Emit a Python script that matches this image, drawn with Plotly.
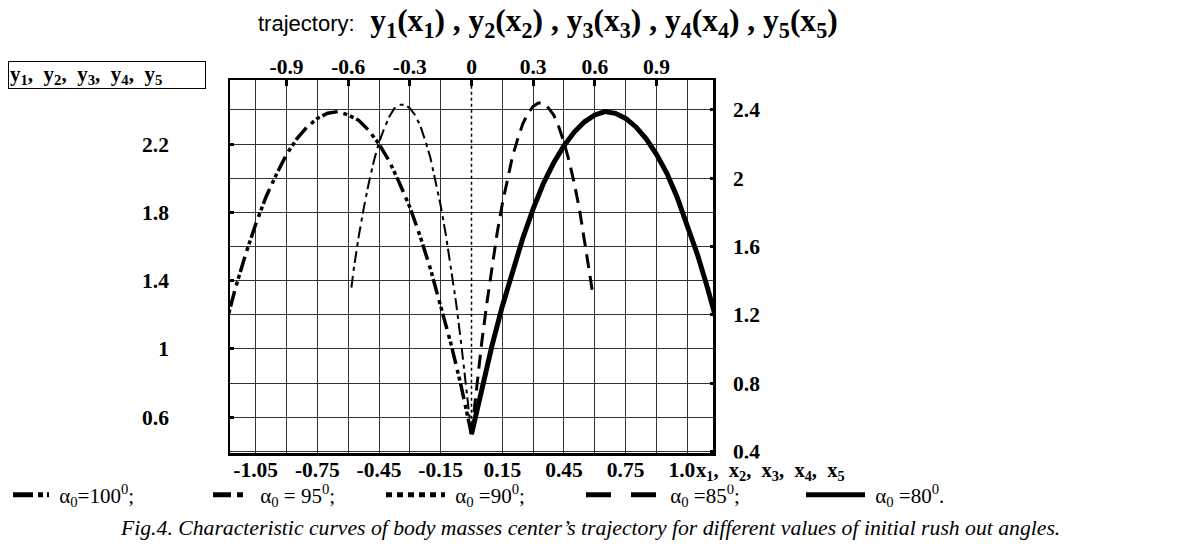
import plotly.graph_objects as go

SERIF = "Liberation Serif"
SANS = "Liberation Sans"

# alpha0 = 100 deg (left, long flight)
x_100 = [0.0, -0.05, -0.10, -0.15, -0.20, -0.25, -0.30, -0.35, -0.40, -0.45, -0.50, -0.55,
         -0.60, -0.65, -0.70, -0.75, -0.80, -0.85, -0.90, -0.95, -1.00, -1.05, -1.10, -1.15, -1.20]
y_100 = [0.50, 0.78, 1.03, 1.26, 1.47, 1.66, 1.83, 1.97, 2.10, 2.20, 2.28, 2.34,
         2.37, 2.39, 2.38, 2.35, 2.30, 2.23, 2.14, 2.02, 1.89, 1.73, 1.55, 1.35, 1.12]

# alpha0 = 95 deg (left, short flight)
x_95 = [0.0, -0.025, -0.05, -0.075, -0.10, -0.125, -0.15, -0.175, -0.20, -0.225, -0.25, -0.275,
        -0.30, -0.325, -0.35, -0.375, -0.40, -0.425, -0.45, -0.475, -0.50, -0.525, -0.55, -0.575, -0.585]
y_95 = [0.50, 0.78, 1.03, 1.27, 1.48, 1.67, 1.84, 1.99, 2.12, 2.22, 2.31, 2.37,
        2.41, 2.43, 2.43, 2.41, 2.36, 2.29, 2.21, 2.10, 1.97, 1.82, 1.65, 1.45, 1.35]

# alpha0 = 90 deg (vertical)
x_90 = [0.0, 0.0]
y_90 = [0.52, 2.60]

# alpha0 = 85 deg (right, short flight)
x_85 = [0.0, 0.025, 0.05, 0.075, 0.10, 0.125, 0.15, 0.175, 0.20, 0.225, 0.25, 0.275,
        0.30, 0.325, 0.35, 0.375, 0.40, 0.425, 0.45, 0.475, 0.50, 0.525, 0.55, 0.575, 0.59]
y_85 = [0.50, 0.78, 1.04, 1.27, 1.49, 1.68, 1.85, 2.00, 2.13, 2.23, 2.32, 2.38,
        2.42, 2.44, 2.44, 2.41, 2.37, 2.30, 2.21, 2.10, 1.97, 1.82, 1.64, 1.44, 1.32]

# alpha0 = 80 deg (right, long flight)
x_80 = [0.0, 0.05, 0.10, 0.15, 0.20, 0.25, 0.30, 0.35, 0.40, 0.45, 0.50, 0.55,
        0.60, 0.65, 0.70, 0.75, 0.80, 0.85, 0.90, 0.95, 1.00, 1.05, 1.10, 1.15, 1.20]
y_80 = [0.50, 0.77, 1.02, 1.25, 1.46, 1.65, 1.82, 1.97, 2.09, 2.19, 2.27, 2.33,
        2.37, 2.39, 2.38, 2.35, 2.30, 2.23, 2.14, 2.03, 1.89, 1.73, 1.55, 1.35, 1.13]

names = [" α<sub>0</sub>=100<sup>0</sup>;", " α<sub>0</sub> = 95<sup>0</sup>;",
         " α<sub>0</sub> =90<sup>0</sup>;", " α<sub>0</sub> =85<sup>0</sup>;",
         " α<sub>0</sub> =80<sup>0</sup>."]

# tick labels
bottom_ticks = [-1.05, -0.75, -0.45, -0.15, 0.15, 0.45, 0.75, 1.05]
bottom_text = ["-1.05", "-0.75", "-0.45", "-0.15", "0.15", "0.45", "0.75", "1.05"]
top_ticks = [-0.9, -0.6, -0.3, 0.0, 0.3, 0.6, 0.9]
top_text = ["-0.9", "-0.6", "-0.3", "0", "0.3", "0.6", "0.9"]
x_grid_extra = [-0.9, -0.6, -0.3, 0.3, 0.6, 0.9]
left_ticks = [0.6, 1.0, 1.4, 1.8, 2.2]
left_text = ["0.6", "1", "1.4", "1.8", "2.2"]
right_ticks = [0.4, 0.8, 1.2, 1.6, 2.0, 2.4]
right_text = ["0.4", "0.8", "1.2", "1.6", "2", "2.4"]

XR = [-1.175, 1.175]
YR = [0.39, 2.575]
GRID = "#333333"
W, H = 1181, 551
PAGE = 8   # default body margin of the html page

# curve styles on the plot, and bolder ones for the legend keys
plot_lines = [dict(color="black", width=3.5, dash="16px,3px,4px,3px,4px,6px"),
              dict(color="black", width=2, dash="12px,4px,4px,5px"),
              dict(color="black", width=1.5, dash="3px,3px"),
              dict(color="black", width=3, dash="14px,8px"),
              dict(color="black", width=5)]
key_lines = [dict(color="black", width=5, dash="20px,5px,5px,4px,5px,8px"),
             dict(color="black", width=5, dash="18px,6px,6px,10px"),
             dict(color="black", width=5, dash="6px,5px"),
             dict(color="black", width=5, dash="25px,20px"),
             dict(color="black", width=5)]
key_start = [12, 212, 385, 585, 805]     # key line start on the page, px
key_end = [44, 245, 440, 655, 860]       # key line end on the page, px

series = [(x_100, y_100), (x_95, y_95), (x_90, y_90), (x_85, y_85), (x_80, y_80)]

fig = go.Figure()
for i, (xs, ys) in enumerate(series):
    on2 = dict(xaxis="x2", yaxis="y2") if i == 2 else {}
    fig.add_trace(go.Scatter(x=xs, y=ys, mode="lines", line=plot_lines[i],
                             showlegend=False, **on2))
for i in range(5):
    lg = "legend" if i == 0 else "legend%d" % (i + 1)
    fig.add_trace(go.Scatter(x=[None], y=[None], mode="lines", name=names[i],
                             line=key_lines[i], legend=lg, showlegend=True))

tickfont = dict(family=SERIF, size=21.5, color="black", weight="bold")

legends = {}
for i in range(5):
    key = "legend" if i == 0 else "legend%d" % (i + 1)
    legends[key] = dict(orientation="h", xref="container", yref="container",
                        x=max(0, key_start[i] - PAGE - 4) / W, xanchor="left",
                        y=1 - (495 - PAGE) / H, yanchor="middle",
                        font=dict(family=SERIF, size=21, color="black"),
                        itemwidth=max(30, key_end[i] - key_start[i] + 4),
                        bgcolor="rgba(0,0,0,0)")

fig.update_layout(
    width=W, height=H,
    margin=dict(l=230 - PAGE, r=W - 713 + PAGE, t=80 - PAGE, b=H - 453 + PAGE, autoexpand=False),
    plot_bgcolor="white", paper_bgcolor="white",
    showlegend=True,
    xaxis=dict(range=XR, tickmode="array", tickvals=bottom_ticks, ticktext=bottom_text,
               showgrid=True, gridcolor=GRID, gridwidth=1.3,
               minor=dict(tickmode="array", tickvals=x_grid_extra, showgrid=True,
                          gridcolor=GRID, gridwidth=1.3),
               showline=True, linecolor="black", linewidth=2.5, zeroline=False,
               ticks="", tickfont=tickfont, ticklabelstandoff=-5),
    xaxis2=dict(range=XR, overlaying="x", side="top", tickmode="array",
                tickvals=top_ticks, ticktext=top_text, ticks="inside", ticklen=6,
                tickwidth=2.5, tickcolor="black", showgrid=False, zeroline=False,
                showline=True, linecolor="black", linewidth=1.5,
                tickfont=tickfont, ticklabelstandoff=-4),
    yaxis=dict(range=YR, tickmode="array", tickvals=left_ticks, ticktext=left_text,
               showgrid=True, gridcolor=GRID, gridwidth=1.3,
               minor=dict(tickmode="array", tickvals=right_ticks, showgrid=True,
                          gridcolor=GRID, gridwidth=1.3),
               ticks="inside", ticklen=4, tickwidth=2.5, tickcolor="black",
               showline=True, linecolor="black", linewidth=1.5, zeroline=False,
               tickfont=tickfont, ticklabelstandoff=55),
    yaxis2=dict(range=YR, overlaying="y", side="right", tickmode="array",
                tickvals=right_ticks, ticktext=right_text, ticks="inside", ticklen=3,
                tickwidth=2.5, tickcolor="black", showgrid=False, zeroline=False,
                showline=True, linecolor="black", linewidth=2.5,
                tickfont=tickfont, ticklabelstandoff=13),
    **legends,
)

fig.add_annotation(
    xref="paper", yref="paper", x=0.658, y=1.152, xanchor="center", yanchor="middle",
    showarrow=False, font=dict(family=SERIF, size=31.5, color="black"),
    text="<span style='font-family:Liberation Sans;font-size:22px'>trajectory:</span>  "
         "<b>y<sub>1</sub>(x<sub>1</sub>) , y<sub>2</sub>(x<sub>2</sub>) , "
         "y<sub>3</sub>(x<sub>3</sub>) , y<sub>4</sub>(x<sub>4</sub>) , "
         "y<sub>5</sub>(x<sub>5</sub>)</b>")

fig.add_annotation(
    xref="paper", yref="paper", x=(PAGE - 230) / 483, y=1.050, xanchor="left", yanchor="top",
    showarrow=False, width=194, height=24, align="left",
    bordercolor="black", borderwidth=1, borderpad=1,
    font=dict(family=SERIF, size=21, color="black", weight="bold"),
    text="y<sub>1</sub>,  y<sub>2</sub>,  y<sub>3</sub>,  y<sub>4</sub>,  y<sub>5</sub>")

fig.add_annotation(
    xref="paper", yref="paper", x=0.962, y=-0.050, xanchor="left", yanchor="middle",
    showarrow=False, bgcolor="white", borderpad=0,
    font=dict(family=SERIF, size=20.5, color="black", weight="bold"),
    text="x<sub>1</sub>,  x<sub>2</sub>,  x<sub>3</sub>,  x<sub>4</sub>,  x<sub>5</sub>")

fig.add_annotation(
    xref="paper", yref="paper", x=0.745, y=-0.201, xanchor="center", yanchor="middle",
    showarrow=False, font=dict(family=SERIF, size=21.7, color="black", style="italic"),
    text="Fig.4. Characteristic curves of body masses center’s trajectory for different "
         "values of initial rush out angles.")

fig.write_html("out.html")
